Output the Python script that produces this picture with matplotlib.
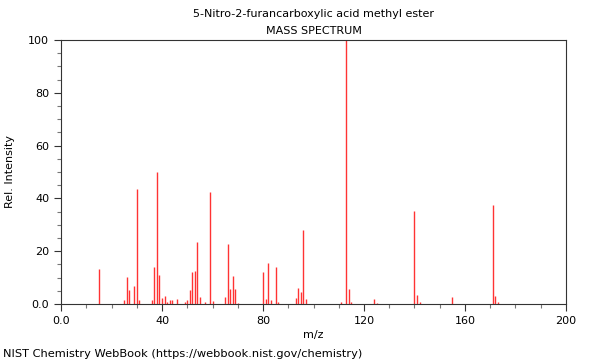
import matplotlib
matplotlib.use("Agg")
import matplotlib.pyplot as plt
from matplotlib.ticker import MultipleLocator, FixedLocator

title = "5-Nitro-2-furancarboxylic acid methyl ester"
mz = [15, 25, 26, 27, 29, 30, 31, 36, 37, 38, 39, 40, 41, 42, 43, 44, 46, 49, 50,
      51, 52, 53, 54, 55, 57, 59, 60, 65, 66, 67, 68, 69, 70, 80, 81, 82, 83, 85, 86,
      93, 94, 95, 96, 97, 111, 113, 114, 115, 124, 125, 140, 141, 142, 155, 171, 172, 173]
intensity = [13.4, 1.5, 10.2, 5.2, 6.8, 43.5, 1.6, 1.4, 14.0, 50.0, 10.8, 2.1, 2.9, 0.9,
             1.6, 1.6, 1.8, 0.9, 1.5, 5.3, 12.1, 12.6, 23.6, 2.7, 0.8, 42.3, 1.0, 2.8,
             22.7, 5.7, 10.5, 5.7, 0.5, 12.1, 1.9, 15.5, 1.6, 13.9, 0.8, 2.1, 6.2, 4.5,
             28.2, 1.8, 0.6, 100.0, 5.8, 0.6, 2.0, 0.4, 35.2, 3.4, 0.8, 2.8, 37.6, 2.9, 0.6]
x_ticks = [0, 40, 80, 120, 160, 200]
x_labels = ["0.0", "40", "80", "120", "160", "200"]
y_ticks = [0, 20, 40, 60, 80, 100]
y_labels = ["0.0", "20", "40", "60", "80", "100"]

fig = plt.figure(figsize=(6, 3.6), dpi=100)
ax = fig.add_axes([0.1017, 0.1556, 0.8416, 0.7333])

ax.vlines(mz, 0, intensity, color="#ff3333", linewidth=1.0)

ax.set_xlim(0, 200)
ax.set_ylim(0, 100)
ax.xaxis.set_major_locator(FixedLocator(x_ticks))
ax.set_xticklabels(x_labels)
ax.yaxis.set_major_locator(FixedLocator(y_ticks))
ax.set_yticklabels(y_labels)
ax.xaxis.set_minor_locator(MultipleLocator(10))
ax.yaxis.set_minor_locator(MultipleLocator(5))
ax.tick_params(which="major", length=5, width=0.8, labelsize=8, color="#333333")
ax.tick_params(which="minor", length=3, width=0.8, color="#777777")
for s in ax.spines.values():
    s.set_color("#333333")
    s.set_linewidth(0.8)

ax.set_xlabel("m/z", fontsize=8)
ax.xaxis.set_label_coords(0.5, -0.1)
ax.set_ylabel("Rel. Intensity", fontsize=8)
ax.yaxis.set_label_coords(-0.092, 0.5)

fig.text(0.523, 0.962, title, ha="center", va="center", fontsize=8)
fig.text(0.523, 0.915, "MASS SPECTRUM", ha="center", va="center", fontsize=8)
fig.text(0.005, 0.018, "NIST Chemistry WebBook (https://webbook.nist.gov/chemistry)",
         ha="left", va="center", fontsize=8.2)

fig.savefig("out.png", dpi=100)
